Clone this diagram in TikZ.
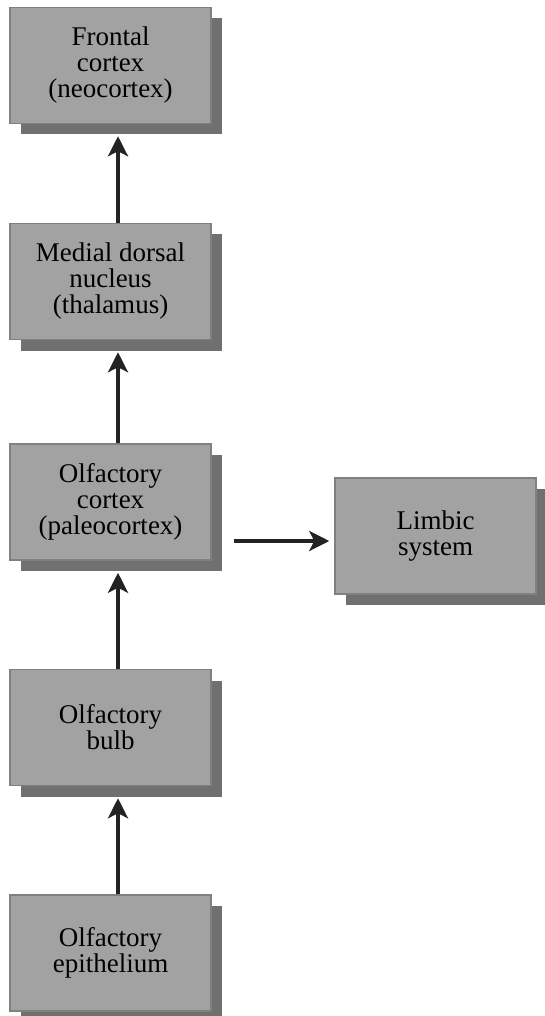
\documentclass[tikz,border=0pt]{standalone}
\usepackage{fontspec}
\setmainfont{Liberation Serif}
\usetikzlibrary{arrows.meta,shadows}
\definecolor{boxfill}{RGB}{162,162,162}
\definecolor{boxedge}{RGB}{128,128,128}
\definecolor{boxshadow}{RGB}{112,112,112}
\definecolor{arrowcol}{RGB}{35,35,35}
\begin{document}
\begin{tikzpicture}[x=1pt,y=-1pt,
  box/.style={draw=boxedge,line width=1.5pt,fill=boxfill,rectangle,
    minimum width=201pt,minimum height=116pt,inner sep=0pt,align=center,
    font=\fontsize{27}{26}\selectfont,text=black,
    drop shadow={shadow xshift=11pt,shadow yshift=-11pt,fill=boxshadow,opacity=1}},
  arr/.style={draw=arrowcol,line width=3.5pt,-{Stealth[length=20pt,width=20pt,inset=5pt]}}]
\useasboundingbox (0,0) rectangle (544,1016);
\node[box] (b1) at (110.5,65.5) {Frontal\\cortex\\(neocortex)};
\node[box] (b2) at (110.5,281.5) {Medial dorsal\\nucleus\\(thalamus)};
\node[box] (b3) at (110.5,502) {Olfactory\\cortex\\(paleocortex)};
\node[box] (b4) at (110.5,727.5) {Olfactory\\bulb};
\node[box] (b5) at (110.5,953) {Olfactory\\epithelium};
\node[box] (lim) at (435.5,536) {Limbic\\system};
\draw[arr] ([xshift=7.5pt]b2.north) -- ([xshift=7.5pt,yshift=-12pt]b1.south);
\draw[arr] ([xshift=7.5pt]b3.north) -- ([xshift=7.5pt,yshift=-12pt]b2.south);
\draw[arr] ([xshift=7.5pt]b4.north) -- ([xshift=7.5pt,yshift=-12pt]b3.south);
\draw[arr] ([xshift=7.5pt]b5.north) -- ([xshift=7.5pt,yshift=-12pt]b4.south);
\draw[arr] ([shift={(22,39)}]b3.east) -- ([shift={(-5,5)}]lim.west);
\end{tikzpicture}
\end{document}
